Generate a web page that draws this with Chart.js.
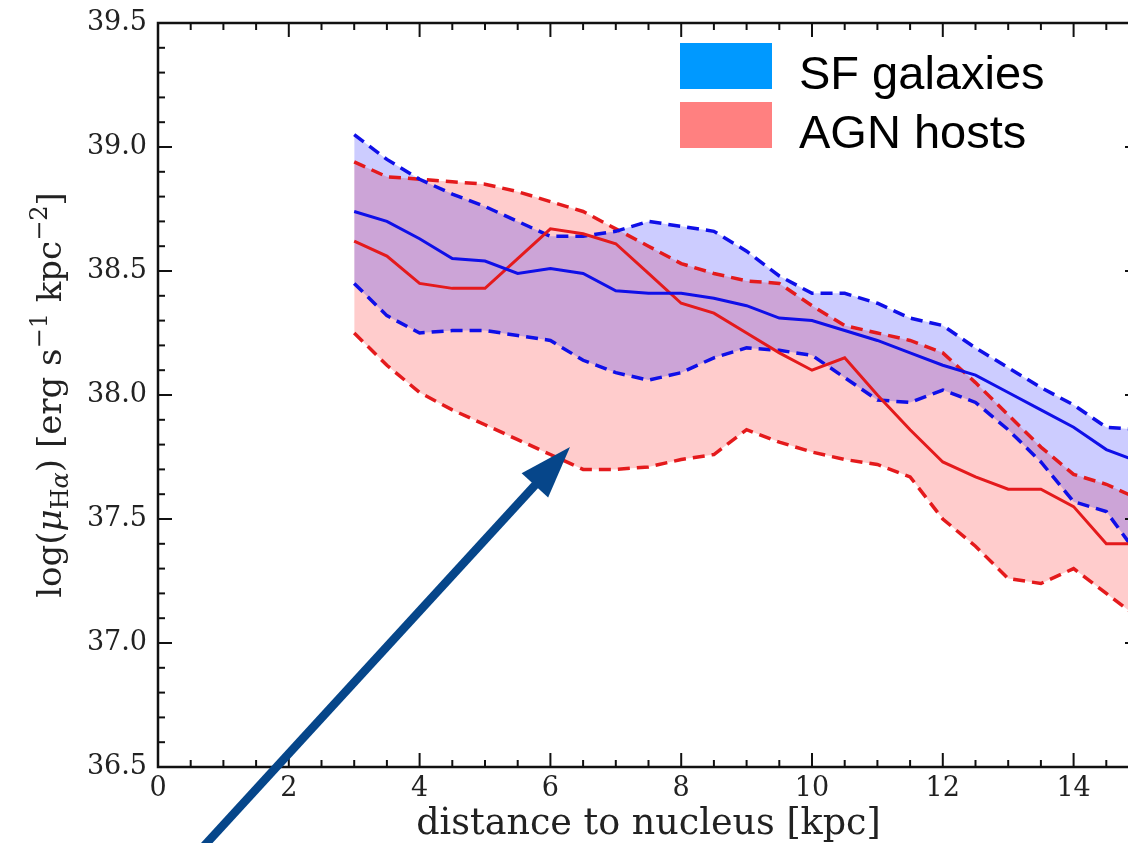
<!DOCTYPE html>
<html lang="en">
<head>
  <meta charset="UTF-8" />
  <title>H-alpha surface brightness profile</title>
  <script src="https://cdn.jsdelivr.net/npm/chart.js"></script>
  <style>
    html, body { margin: 0; padding: 0; background: #fff; overflow: hidden; }
    #wrap { width: 1150px; height: 843px; }
  </style>
</head>
<body>
  <div id="wrap"><canvas id="profileChart" width="1150" height="843"></canvas></div>

  <script>
    // radial bins (kpc)
    const distance = [3, 3.5, 4, 4.5, 5, 5.5, 6, 6.5, 7, 7.5, 8, 8.5, 9, 9.5,
                      10, 10.5, 11, 11.5, 12, 12.5, 13, 13.5, 14, 14.5, 15];

    // SF galaxies: median and envelope
    const sfMedian = [38.74, 38.70, 38.63, 38.55, 38.54, 38.49, 38.51, 38.49, 38.42, 38.41, 38.41, 38.39, 38.36, 38.31,
                      38.30, 38.26, 38.22, 38.17, 38.12, 38.08, 38.01, 37.94, 37.87, 37.78, 37.73];
    const sfUpper  = [39.05, 38.95, 38.87, 38.81, 38.76, 38.70, 38.64, 38.64, 38.66, 38.70, 38.68, 38.66, 38.58, 38.48,
                      38.41, 38.41, 38.37, 38.31, 38.28, 38.19, 38.11, 38.03, 37.96, 37.87, 37.86];
    const sfLower  = [38.45, 38.32, 38.25, 38.26, 38.26, 38.24, 38.22, 38.14, 38.09, 38.06, 38.09, 38.15, 38.19, 38.18,
                      38.16, 38.07, 37.98, 37.97, 38.02, 37.97, 37.86, 37.73, 37.57, 37.53, 37.35];

    // AGN hosts: median and envelope
    const agnMedian = [38.62, 38.56, 38.45, 38.43, 38.43, 38.55, 38.67, 38.65, 38.61, 38.49, 38.37, 38.33, 38.25, 38.17,
                       38.10, 38.15, 38.00, 37.86, 37.73, 37.67, 37.62, 37.62, 37.55, 37.40, 37.40];
    const agnUpper  = [38.94, 38.88, 38.87, 38.86, 38.85, 38.82, 38.78, 38.74, 38.67, 38.60, 38.53, 38.49, 38.46, 38.45,
                       38.36, 38.28, 38.25, 38.22, 38.17, 38.05, 37.92, 37.79, 37.68, 37.64, 37.58];
    const agnLower  = [38.25, 38.12, 38.01, 37.94, 37.88, 37.82, 37.76, 37.70, 37.70, 37.71, 37.74, 37.76, 37.86, 37.81,
                       37.77, 37.74, 37.72, 37.67, 37.50, 37.39, 37.26, 37.24, 37.30, 37.20, 37.10];

    const xTicks = [0, 2, 4, 6, 8, 10, 12, 14];
    const yTicks = [36.5, 37.0, 37.5, 38.0, 38.5, 39.0, 39.5];
    const legendLabels = ['SF galaxies', 'AGN hosts'];

    // annotation arrow, in data coordinates (tail, head)
    const arrowFrom = [0.49, 36.12];
    const arrowTo = [6.30, 37.79];

    const SERIF = '"DejaVu Serif", serif';
    const BLUE = '#0f0fe8';
    const RED = '#e41a1c';

    const pts = ys => distance.map((d, i) => ({ x: d, y: ys[i] }));

    const line = (ctx, x0, y0, x1, y1) => {
      ctx.beginPath(); ctx.moveTo(x0, y0); ctx.lineTo(x1, y1); ctx.stroke();
    };

    // inward ticks on all four sides + frame (matplotlib style)
    const frameTicks = {
      id: 'frameTicks',
      afterDraw(chart) {
        const { ctx, chartArea: a, scales: { x, y } } = chart;
        ctx.save();
        ctx.strokeStyle = '#111';
        ctx.lineWidth = 2;
        for (let v = x.min; v <= x.max + 1e-9; v += 0.5) {
          const px = x.getPixelForValue(v);
          const len = xTicks.some(t => Math.abs(t - v) < 1e-6) ? 14 : 7;
          line(ctx, px, a.bottom, px, a.bottom - len);
          line(ctx, px, a.top, px, a.top + len);
        }
        for (let k = 0; k <= 30; k++) {
          const v = y.min + k * 0.1;
          const py = y.getPixelForValue(v);
          const len = k % 5 === 0 ? 14 : 7;
          line(ctx, a.left, py, a.left + len, py);
          line(ctx, a.right, py, a.right - len, py);
        }
        ctx.lineWidth = 2.5;
        ctx.strokeRect(a.left, a.top, a.right - a.left, a.bottom - a.top);
        ctx.restore();
      }
    };

    // y-axis title with sub/superscripts
    const yTitle = {
      id: 'yTitle',
      afterDraw(chart) {
        const { ctx, chartArea: a } = chart;
        const big = 34, small = 24;
        const parts = [
          { t: 'log(', f: `${big}px ${SERIF}`, dy: 0 },
          { t: 'μ', f: `italic ${big}px ${SERIF}`, dy: 0 },
          { t: 'H', f: `${small}px ${SERIF}`, dy: 7 },
          { t: 'α', f: `italic ${small}px ${SERIF}`, dy: 7 },
          { t: ') [erg s', f: `${big}px ${SERIF}`, dy: 0 },
          { t: '−1', f: `${small}px ${SERIF}`, dy: -14 },
          { t: ' kpc', f: `${big}px ${SERIF}`, dy: 0 },
          { t: '−2', f: `${small}px ${SERIF}`, dy: -14 },
          { t: ']', f: `${big}px ${SERIF}`, dy: 0 }
        ];
        ctx.save();
        let total = 0;
        parts.forEach(p => { ctx.font = p.f; p.w = ctx.measureText(p.t).width; total += p.w; });
        ctx.translate(61, (a.top + a.bottom) / 2);
        ctx.rotate(-Math.PI / 2);
        ctx.fillStyle = '#222';
        ctx.textBaseline = 'alphabetic';
        let cx = -total / 2;
        parts.forEach(p => { ctx.font = p.f; ctx.fillText(p.t, cx, p.dy); cx += p.w; });
        ctx.restore();
      }
    };

    const legendBox = {
      id: 'legendBox',
      afterDraw(chart) {
        const { ctx } = chart;
        const colors = ['#0099ff', '#ff8080'];
        ctx.save();
        ctx.font = '47px "Liberation Sans", Arial, sans-serif';
        ctx.textBaseline = 'alphabetic';
        legendLabels.forEach((lab, i) => {
          const top = 43 + i * 59;
          ctx.fillStyle = colors[i];
          ctx.fillRect(680, top, 92, 46);
          ctx.fillStyle = '#000';
          ctx.fillText(lab, 799, top + 46);
        });
        ctx.restore();
      }
    };

    const arrow = {
      id: 'arrow',
      afterDraw(chart) {
        const { ctx, scales: { x, y } } = chart;
        const x0 = x.getPixelForValue(arrowFrom[0]), y0 = y.getPixelForValue(arrowFrom[1]);
        const x1 = x.getPixelForValue(arrowTo[0]), y1 = y.getPixelForValue(arrowTo[1]);
        const ang = Math.atan2(y1 - y0, x1 - x0);
        const headLen = 52, headHalf = 18;
        const bx = x1 - headLen * Math.cos(ang), by = y1 - headLen * Math.sin(ang);
        ctx.save();
        ctx.strokeStyle = ctx.fillStyle = '#06468a';
        ctx.lineWidth = 8.5;
        line(ctx, x0, y0, bx + 4 * Math.cos(ang), by + 4 * Math.sin(ang));
        ctx.beginPath();
        ctx.moveTo(x1, y1);
        ctx.lineTo(bx + headHalf * Math.sin(ang), by - headHalf * Math.cos(ang));
        ctx.lineTo(bx - headHalf * Math.sin(ang), by + headHalf * Math.cos(ang));
        ctx.closePath();
        ctx.fill();
        ctx.restore();
      }
    };

    const dashed = [12, 7];

    new Chart(document.getElementById('profileChart').getContext('2d'), {
      type: 'line',
      data: {
        datasets: [
          { label: 'AGN upper', data: pts(agnUpper), borderColor: RED, borderWidth: 3.5, borderDash: dashed,
            fill: false, order: 3 },
          { label: 'AGN lower', data: pts(agnLower), borderColor: RED, borderWidth: 3.5, borderDash: dashed,
            fill: '-1', backgroundColor: 'rgba(255,0,0,0.2)', order: 3 },
          { label: 'SF upper', data: pts(sfUpper), borderColor: BLUE, borderWidth: 3.5, borderDash: dashed,
            fill: false, order: 2 },
          { label: 'SF lower', data: pts(sfLower), borderColor: BLUE, borderWidth: 3.5, borderDash: dashed,
            fill: '-1', backgroundColor: 'rgba(0,0,255,0.2)', order: 2 },
          { label: 'AGN hosts', data: pts(agnMedian), borderColor: RED, borderWidth: 3, fill: false, order: 1 },
          { label: 'SF galaxies', data: pts(sfMedian), borderColor: BLUE, borderWidth: 3, fill: false, order: 0 }
        ]
      },
      options: {
        responsive: false,
        animation: false,
        elements: { point: { radius: 0 }, line: { tension: 0 } },
        layout: { padding: { top: 23, right: 11, left: 0, bottom: 0 } },
        plugins: {
          legend: { display: false },
          tooltip: { enabled: false },
          filler: { drawTime: 'beforeDatasetsDraw' }
        },
        scales: {
          x: {
            type: 'linear', min: 0, max: 15,
            grid: { display: false, drawTicks: false },
            border: { display: false },
            afterBuildTicks: s => { s.ticks = xTicks.map(v => ({ value: v })); },
            afterFit: s => { s.height = 76; s.paddingLeft = 0; s.paddingRight = 0; },
            ticks: { color: '#222', padding: 6, maxRotation: 0, autoSkip: false,
                     font: { family: SERIF, size: 27 } },
            title: { display: true, text: 'distance to nucleus [kpc]', color: '#222',
                     font: { family: SERIF, size: 36.5, lineHeight: 1 }, padding: { top: 0, bottom: 0 } }
          },
          y: {
            min: 36.5, max: 39.5,
            grid: { display: false, drawTicks: false },
            border: { display: false },
            afterBuildTicks: s => { s.ticks = yTicks.map(v => ({ value: v })); },
            afterFit: s => { s.width = 158; s.paddingTop = 0; s.paddingBottom = 0; },
            ticks: { color: '#222', padding: 11, font: { family: SERIF, size: 27 },
                     callback: v => v.toFixed(1) }
          }
        }
      },
      plugins: [frameTicks, yTitle, legendBox, arrow]
    });
  </script>
</body>
</html>
